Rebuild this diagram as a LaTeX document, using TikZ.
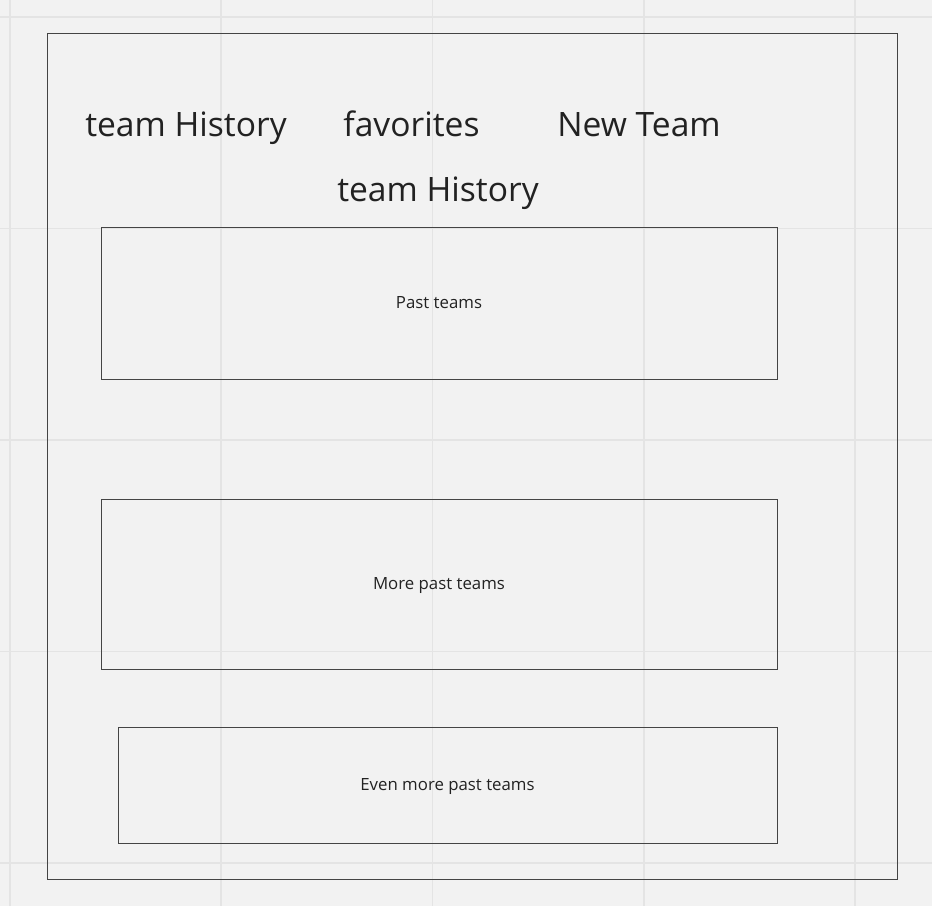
\documentclass[tikz,border=0pt]{standalone}
\usepackage{fontspec}
\setmainfont{Open Sans}
\usepackage{xcolor}
\usetikzlibrary{positioning}
\definecolor{paper}{HTML}{F2F2F2}
\definecolor{gridline}{HTML}{E4E4E4}
\definecolor{frameline}{HTML}{444444}
\definecolor{ink}{HTML}{222222}

\begin{document}
\begin{tikzpicture}[x=0.75pt, y=-0.75pt,
    tab/.style={anchor=base, inner sep=0pt, text=ink, font=\fontsize{25.2}{30}\selectfont},
    teambox/.style={draw=frameline, line width=0.75pt, rectangle, inner sep=0pt,
        text height=9pt, text depth=1.5pt,
        text=ink, font=\fontsize{12.6}{15}\selectfont}]
    % Background and grid
    \fill[paper] (0,0) rectangle (932,906);
    \useasboundingbox (0,0) rectangle (932,906);
    \foreach \k in {0,...,4} {
        \draw[gridline, line width=1.2pt] (10+211.25*\k,0) -- (10+211.25*\k,906);
        \draw[gridline, line width=1.2pt] (0,17+211.5*\k) -- (932,17+211.5*\k);
    }

    % Page frame
    \draw[frameline, line width=0.75pt] (47,34) rectangle (897,879);

    % Tabs
    \node[tab] (history) at (186,137) {team History};
    \node[tab] (favs) at (411.5,137) {favorites};
    \node[tab] (newteam) at (639,137) {New Team};
    \node[tab] (title) at (438,201) {team History};

    % Team boxes
    \node[teambox, minimum width=507pt, minimum height=114pt] (pastA) at (439,303) {Past teams};
    \node[teambox, minimum width=507pt, minimum height=127.5pt] (pastB) at (439,584) {More past teams};
    \node[teambox, minimum width=494.25pt, minimum height=87pt] (pastC) at (447.5,785) {Even more past teams};
\end{tikzpicture}
\end{document}
